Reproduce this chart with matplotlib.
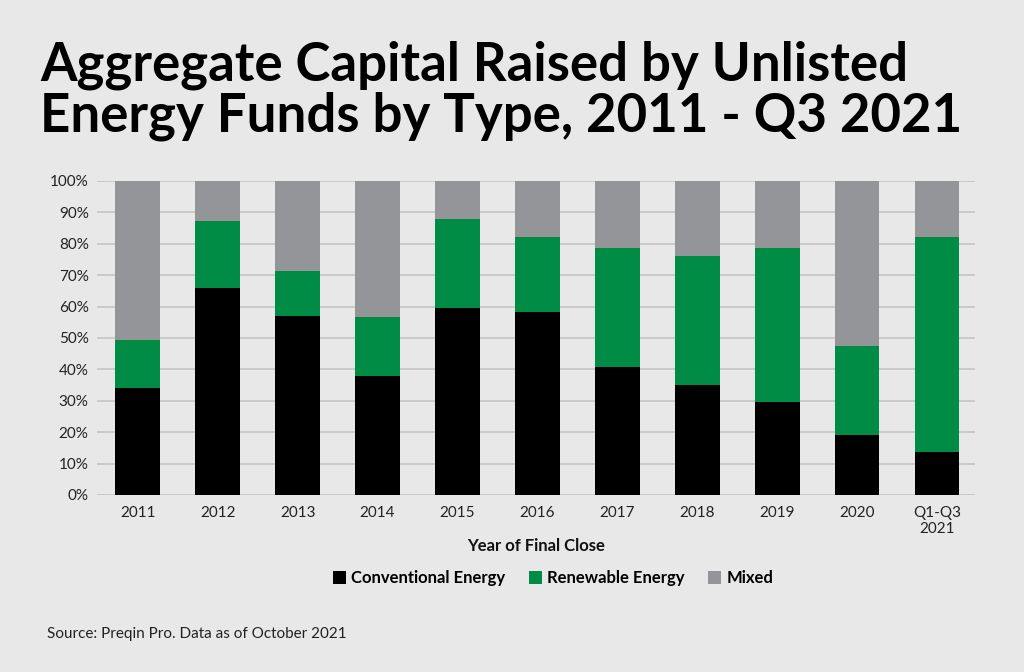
import numpy as np
import matplotlib.pyplot as plt
from matplotlib.ticker import FuncFormatter

plt.rcParams['font.family'] = ['Lato', 'DejaVu Sans']

nam = ['2011', '2012', '2013', '2014', '2015', '2016', '2017', '2018', '2019', '2020', 'Q1-Q3\n2021']
conventional = [34.0, 65.8, 57.1, 37.9, 59.5, 58.2, 40.7, 34.9, 29.6, 19.0, 13.7]
renewable = [15.5, 21.5, 14.3, 18.7, 28.5, 24.0, 38.1, 41.3, 49.2, 28.6, 68.3]
mixed = [50.5, 12.7, 28.6, 43.4, 12.0, 17.8, 21.2, 23.8, 21.2, 52.4, 18.0]

mau_nen = '#e8e8e8'
mau_den = '#000000'
mau_xanh = '#008c45'
mau_xam = '#939598'

fig = plt.figure(figsize=(10.24, 6.72), dpi=100, facecolor=mau_nen)
ax = fig.add_axes([0.0947, 0.2634, 0.857, 0.4673])
ax.set_facecolor(mau_nen)

x = np.arange(len(nam))
conv = np.array(conventional)
ren = np.array(renewable)
mix = np.array(mixed)
w = 0.56
ax.bar(x, conv, w, color=mau_den, label='Conventional Energy', zorder=3)
ax.bar(x, ren, w, bottom=conv, color=mau_xanh, label='Renewable Energy', zorder=3)
ax.bar(x, mix, w, bottom=conv + ren, color=mau_xam, label='Mixed', zorder=3)

ax.set_xlim(-0.51, 10.47)
ax.set_ylim(0, 100)
ax.set_yticks(np.arange(0, 101, 10))
ax.yaxis.set_major_formatter(FuncFormatter(lambda v, p: '%d%%' % v))
ax.set_xticks(x)
ax.set_xticklabels(nam)
ax.grid(axis='y', color='#c4c4c4', linewidth=1.2, zorder=0)
for s in ax.spines.values():
    s.set_visible(False)
ax.tick_params(length=0, labelsize=11, colors='#222222')
ax.tick_params(axis='x', pad=8)
ax.tick_params(axis='y', pad=6)

ax.set_xlabel('Year of Final Close', fontsize=12, fontweight='bold', color='#111111', labelpad=1)

fig.legend(loc='center', bbox_to_anchor=(0.54, 0.14), ncol=3, frameon=False,
           handlelength=0.8, handleheight=0.8, handletextpad=0.3,
           columnspacing=1.4, prop={'weight': 'bold', 'size': 12})

fig.text(0.039, 0.94, 'Aggregate Capital Raised by Unlisted\nEnergy Funds by Type, 2011 - Q3 2021',
         fontsize=38, fontweight='bold', va='top', ha='left', linespacing=1.05, color='#000000')
fig.text(0.046, 0.057, 'Source: Preqin Pro. Data as of October 2021', fontsize=11,
         color='#222222', va='center', ha='left')

fig.savefig('out.png', dpi=100, facecolor=mau_nen)
